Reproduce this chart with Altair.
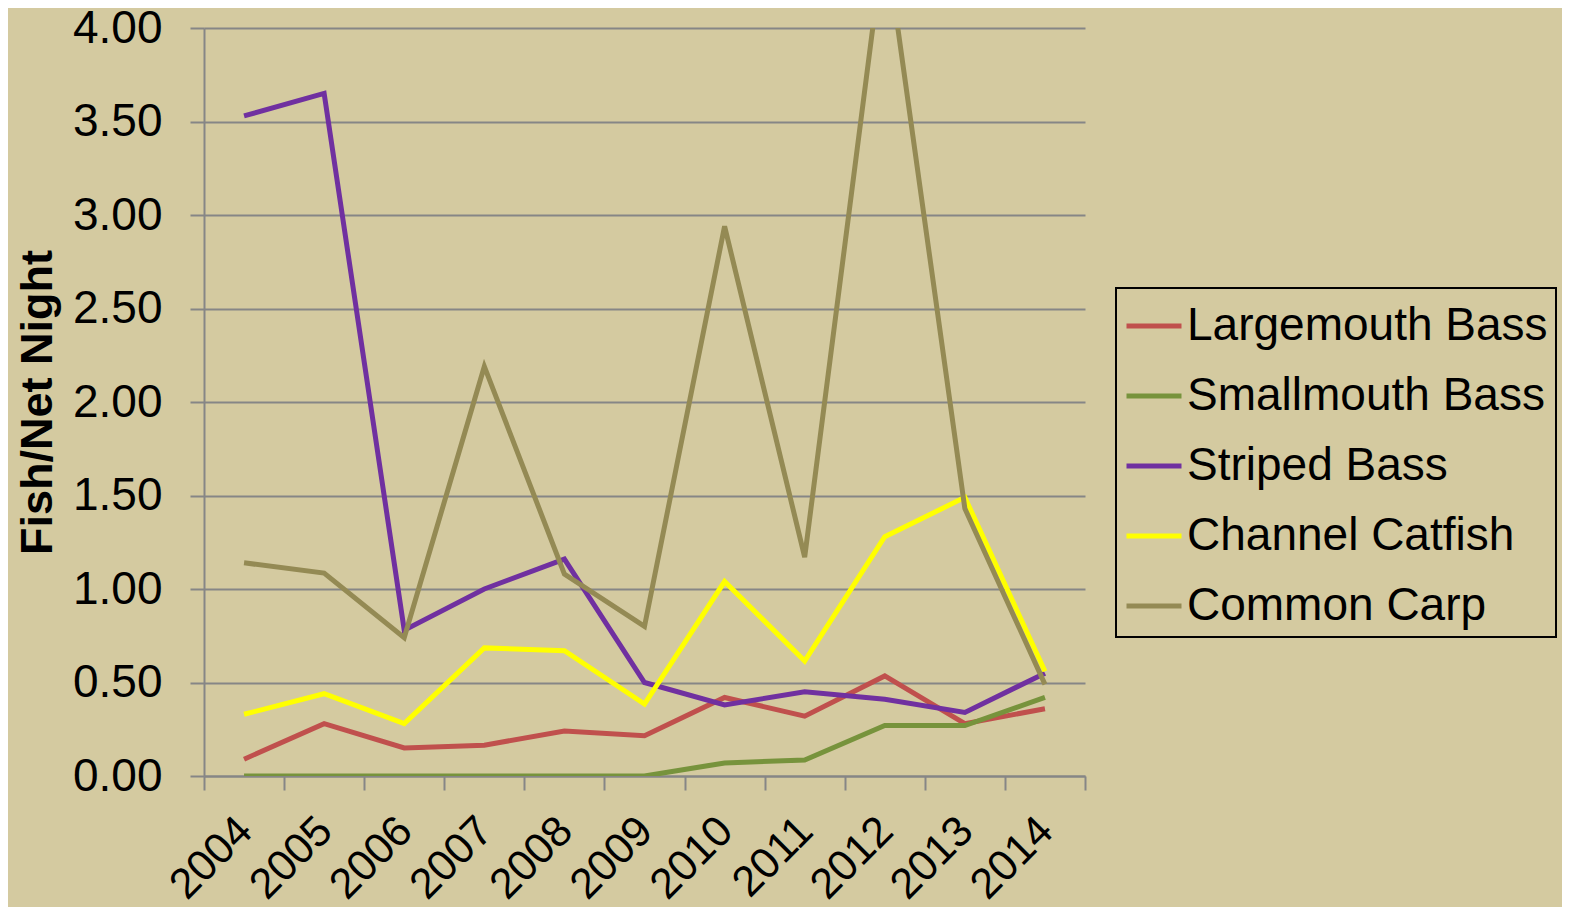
import altair as alt
import pandas as pd

years = ["2004", "2005", "2006", "2007", "2008", "2009", "2010", "2011", "2012", "2013", "2014"]
series_names = ["Largemouth Bass", "Smallmouth Bass", "Striped Bass", "Channel Catfish", "Common Carp"]
largemouth = [0.09, 0.28, 0.15, 0.165, 0.24, 0.215, 0.42, 0.32, 0.535, 0.28, 0.36]
smallmouth = [0.0, 0.0, 0.0, 0.0, 0.0, 0.0, 0.07, 0.085, 0.27, 0.27, 0.42]
striped = [3.53, 3.65, 0.78, 1.0, 1.16, 0.5, 0.38, 0.45, 0.41, 0.34, 0.55]
catfish = [0.33, 0.44, 0.28, 0.685, 0.67, 0.385, 1.04, 0.615, 1.28, 1.49, 0.56]
carp = [1.14, 1.085, 0.74, 2.19, 1.08, 0.80, 2.94, 1.17, 4.5, 1.43, 0.49]
colors = ["#c0504d", "#77933c", "#7030a0", "#ffff00", "#948a54"]

rows = []
for name, vals in zip(series_names, [largemouth, smallmouth, striped, catfish, carp]):
    for i, (yr, v) in enumerate(zip(years, vals)):
        rows.append({"Year": yr, "Species": name, "Value": v, "order": series_names.index(name)})
df = pd.DataFrame(rows)

FONT = "Liberation Sans"

chart = alt.Chart(df).mark_line(strokeWidth=5, clip=True).encode(
    x=alt.X("Year:N", sort=years, bandPosition=0.5,
            scale=alt.Scale(type="band", paddingInner=0, paddingOuter=0),
            axis=alt.Axis(title=None, labelAngle=-45, labelAlign="right", labelBaseline="top",
                          labelFontSize=43, labelFont=FONT, labelColor="black", labelPadding=19,
                          labelOffset=-14,
                          tickBand="extent", ticks=True, tickSize=14, tickColor="#868686", tickWidth=2,
                          domainColor="#868686", domainWidth=2, grid=False)),
    y=alt.Y("Value:Q", scale=alt.Scale(domain=[0, 4], nice=False),
            axis=alt.Axis(title="Fish/Net Night", values=[0, 0.5, 1, 1.5, 2, 2.5, 3, 3.5, 4],
                          format=".2f", labelFontSize=46, labelFont=FONT, labelColor="black",
                          labelPadding=28, tickSize=14, tickColor="#868686", tickWidth=2,
                          domainColor="#868686", domainWidth=2, gridColor="#868686", gridWidth=2,
                          titleFont=FONT, titleFontSize=45, titleFontWeight="bold", titleColor="black",
                          titleX=-167, titleY=374, titleAngle=-90, titleAlign="center",
                          titleBaseline="middle")),
    color=alt.Color("Species:N", sort=series_names,
                    scale=alt.Scale(domain=series_names, range=colors),
                    legend=alt.Legend(title=None, orient="none", legendX=912, legendY=260,
                                      strokeColor="black", padding=8,
                                      symbolType="stroke", symbolStrokeWidth=5, symbolSize=3025,
                                      labelFontSize=46, labelFont=FONT, labelColor="black",
                                      labelOffset=3, rowPadding=17, labelLimit=0)),
    order=alt.Order("order:Q"),
).properties(
    width=881, height=748,
    padding={"left": 196, "top": 20, "right": 477, "bottom": 131},
    autosize="none",
).configure(background="#d4caa0").configure_view(stroke=None).configure_legend(strokeWidth=2)

chart.save("out.html", embed_options={"renderer": "svg", "actions": False})
